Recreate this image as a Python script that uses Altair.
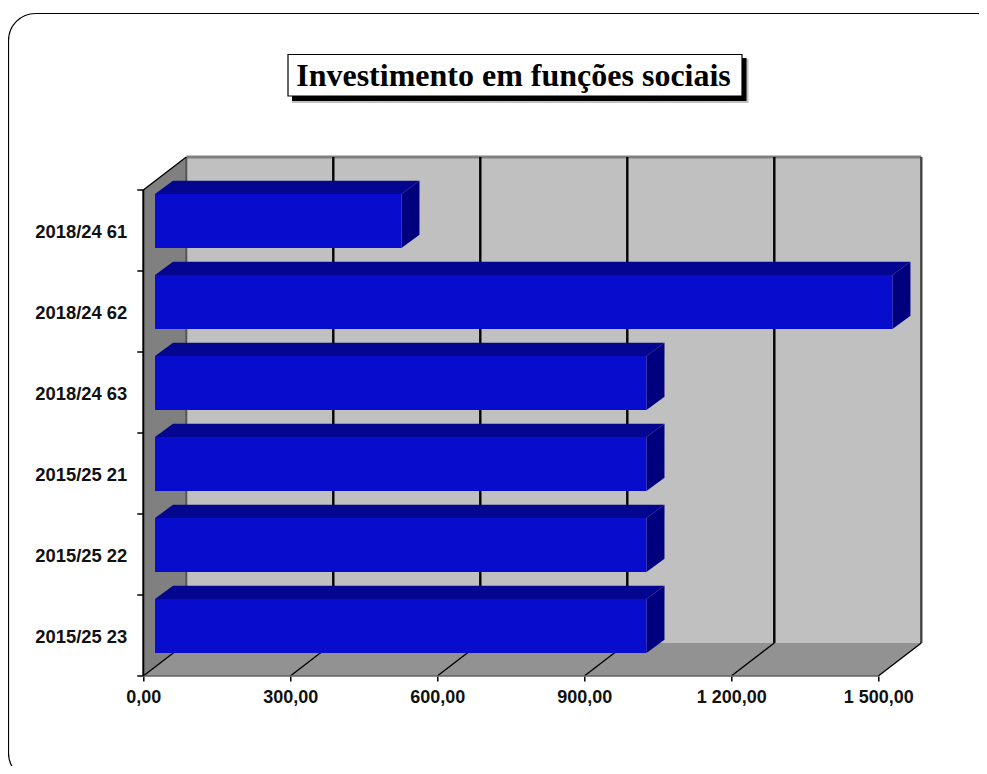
import altair as alt
import pandas as pd

categories = ["2018/24 61", "2018/24 62", "2018/24 63", "2015/25 21", "2015/25 22", "2015/25 23"]
values = [503, 1505, 1003, 1003, 1003, 1003]
x_ticks = [0, 300, 600, 900, 1200, 1500]
TITLE = "Investimento em funções sociais"

PX_X = 735 / 1500      # pixels per value unit
PX_Y = 81              # pixels per row
W, H = 782, 519
XMAX, YMAX = W / PX_X, H / PX_Y
ROWS = len(categories)
WALL_DX, WALL_DY = 43 / PX_X, 33 / PX_Y
BAR_OX, BAR_OY = 11.7 / PX_X, 9.5 / PX_Y
BAR_DX, BAR_DY = 18 / PX_X, 13.3 / PX_Y
BAR_H = 54 / PX_Y

OL, OT = 143.3, 157.0   # plot origin on the page

rows_front, rows_top, rows_side = [], [], []
for i, (c, v) in enumerate(zip(categories, values)):
    band_bottom = ROWS - 1 - i
    y0 = band_bottom + (81 - 54) / 2 / PX_Y + BAR_OY
    y1 = y0 + BAR_H
    x0, x1 = BAR_OX, BAR_OX + v
    rows_front.append(dict(cat=c, x=x0, x2=x1, y=y0, y2=y1))
    rows_top += [
        dict(cat=c, x=x0, t=y1, b=y1),
        dict(cat=c, x=x0 + BAR_DX, t=y1 + BAR_DY, b=y1),
        dict(cat=c, x=x1, t=y1 + BAR_DY, b=y1),
        dict(cat=c, x=x1 + BAR_DX, t=y1 + BAR_DY, b=y1 + BAR_DY),
    ]
    rows_side += [
        dict(cat=c, x=x1, t=y1, b=y0),
        dict(cat=c, x=x1 + BAR_DX, t=y1 + BAR_DY, b=y0 + BAR_DY),
    ]

x_s = alt.Scale(domain=[0, XMAX], nice=False, zero=False)
y_s = alt.Scale(domain=[0, YMAX], nice=False, zero=False)
AX = alt.Axis(
    title=None, values=x_ticks, grid=False, domain=False, tickColor="#000000", tickSize=5, tickWidth=1.5,
    labelFont="Liberation Sans", labelFontWeight="bold", labelFontSize=18, labelColor="#111111", labelPadding=7,
    labelExpr="replace(replace(format(datum.value, ',.2f'), ',', ' '), '.', ',')", labelFlush=False, labelOverlap=False,
)
AY = alt.Axis(
    title=None, values=[r + 0.5 for r in range(ROWS)], grid=False, domain=False, ticks=False,
    labelFont="Liberation Sans", labelFontWeight="bold", labelFontSize=18.4, labelColor="#111111", labelPadding=16.5,
    labelOffset=0.5,
    labelExpr="[" + ",".join(f"'{c}'" for c in reversed(categories)) + "][floor(datum.value)]",
)
X = alt.X("x:Q", scale=x_s, axis=AX)
X2 = alt.X2("x2:Q")
Y = alt.Y("y:Q", scale=y_s, axis=AY)
Y2 = alt.Y2("y2:Q")
T = alt.Y("t:Q", scale=y_s, axis=AY)
B = alt.Y2("b:Q")

one = alt.Chart(pd.DataFrame({"a": [0]}))


def px_rect(l, t, r, b, **kw):
    return one.mark_rect(**kw).encode(
        x=alt.value(l - OL), x2=alt.value(r - OL), y=alt.value(t - OT), y2=alt.value(b - OT)
    )


frame = px_rect(8.5, 13.5, 1004, 780, cornerRadius=27, filled=False, stroke="#000000", strokeWidth=1.2)
shadow_g = px_rect(292, 59, 748.5, 103, color="#c0c0c0")
shadow_k = px_rect(292, 58, 746.5, 101, color="#000000")
box = px_rect(288, 54.5, 742, 96, fill="#ffffff", stroke="#000000", strokeWidth=1.2)
title = one.mark_text(
    text=TITLE, font="Liberation Serif", fontWeight="bold", fontSize=32, color="#000000", align="center", baseline="middle"
).encode(x=alt.value(513.5 - OL), y=alt.value(76 - OT))

back = alt.Chart(pd.DataFrame([dict(x=WALL_DX, x2=WALL_DX + 1500, y=WALL_DY, y2=YMAX)])).mark_rect(color="#c0c0c0").encode(
    x=X, x2=X2, y=Y, y2=Y2
)

left_wall = alt.Chart(pd.DataFrame([
    dict(x=0, t=ROWS, b=0),
    dict(x=WALL_DX, t=YMAX, b=WALL_DY),
])).mark_area(color="#808080", orient="vertical").encode(x=X, y=T, y2=B)

floor = alt.Chart(pd.DataFrame([
    dict(x=0, t=0, b=0),
    dict(x=WALL_DX, t=WALL_DY, b=0),
    dict(x=1500, t=WALL_DY, b=0),
    dict(x=1500 + WALL_DX, t=WALL_DY, b=WALL_DY),
])).mark_area(color="#929292", orient="vertical").encode(x=X, y=T, y2=B)


def rules(rows, color, width):
    return alt.Chart(pd.DataFrame(rows)).mark_rule(color=color, strokeWidth=width).encode(x=X, x2=X2, y=Y, y2=Y2)


wall_lines = [dict(x=t + WALL_DX, x2=t + WALL_DX, y=WALL_DY, y2=YMAX) for t in x_ticks[1:5]]
floor_lines = [dict(x=t, x2=t + WALL_DX, y=0, y2=WALL_DY) for t in x_ticks]
grid = rules(wall_lines, "#000000", 2.4)
floor_grid = rules(floor_lines, "#000000", 1.4)
back_edges = rules([dict(x=WALL_DX, x2=WALL_DX + 1500, y=YMAX, y2=YMAX)], "#808080", 3)
back_left = rules([dict(x=WALL_DX, x2=WALL_DX, y=WALL_DY, y2=YMAX)], "#555555", 2)
back_right = rules([dict(x=WALL_DX + 1500, x2=WALL_DX + 1500, y=WALL_DY, y2=YMAX)], "#444444", 2.4)
front_edge = rules([dict(x=0, x2=1500, y=0, y2=0)], "#606060", 1.5)
left_axis = rules([dict(x=0, x2=0, y=0, y2=ROWS)], "#000000", 2)
top_diag = rules([dict(x=0, x2=WALL_DX, y=ROWS, y2=YMAX)], "#000000", 1.4)

row_ticks = alt.Chart(pd.DataFrame({"y": list(range(ROWS + 1))})).mark_rule(color="#000000", strokeWidth=1.5).encode(
    x=alt.value(-6), x2=alt.value(0), y=Y
)

bar_top = alt.Chart(pd.DataFrame(rows_top)).mark_area(color="#04068f", orient="vertical").encode(
    x=X, y=T, y2=B, detail="cat:N"
)
bar_side = alt.Chart(pd.DataFrame(rows_side)).mark_area(color="#00007f", orient="vertical").encode(
    x=X, y=T, y2=B, detail="cat:N"
)
bar_front = alt.Chart(pd.DataFrame(rows_front)).mark_rect(color="#080ccc").encode(x=X, x2=X2, y=Y, y2=Y2)

chart = alt.layer(
    back, left_wall, floor, back_edges, back_left, back_right, grid, floor_grid, front_edge,
    left_axis, top_diag, row_ticks, bar_top, bar_side, bar_front,
    frame, shadow_g, shadow_k, box, title,
).properties(
    width=W, height=H,
    background="#ffffff",
    autosize=alt.AutoSizeParams(type="none"),
    padding={"left": OL - 8, "top": OT - 8, "right": 987 - 8 - 8 - (OL - 8) - W, "bottom": 774 - 8 - 8 - (OT - 8) - H},
).configure_view(stroke=None)

chart.save("out.html", embed_options={"renderer": "svg", "actions": False})
